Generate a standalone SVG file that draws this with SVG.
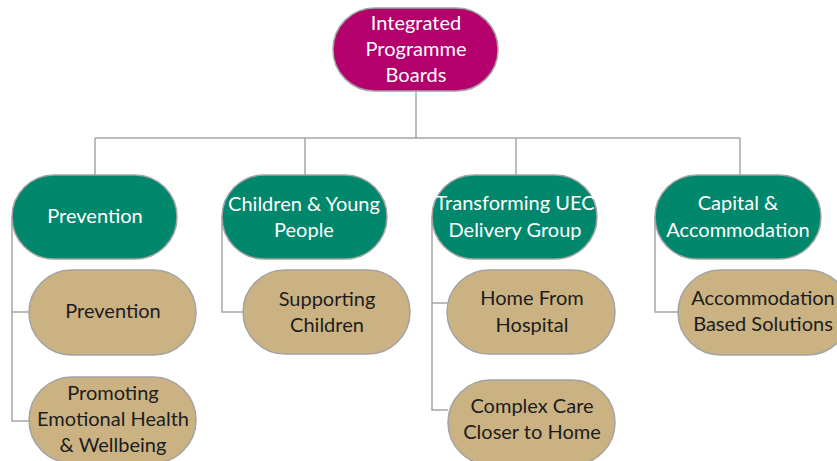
<svg xmlns="http://www.w3.org/2000/svg" width="837" height="461" viewBox="0 0 837 461">
  <style>
    .node { stroke: #a3a3a3; stroke-width: 1.5; }
    .board { fill: #b4006c; }
    .group { fill: #00876c; }
    .stream { fill: #cbb283; }
    .lbl { font-family: Lato, "Liberation Sans", sans-serif; font-size: 20px; text-anchor: middle; }
    .light { fill: #ffffff; }
    .dark { fill: #1c1c1c; }
    .conn { fill: none; stroke: #a6a6a6; stroke-width: 1.5; }
  </style>

  <rect width="837" height="461" fill="#ffffff"/>

  <!-- connectors -->
  <g id="connectors" class="conn">
    <path d="M416 91 V138"/>
    <path d="M95 138 H740"/>
    <path d="M95 138 V175"/>
    <path d="M305 138 V175"/>
    <path d="M516 138 V175"/>
    <path d="M740 138 V175"/>
    <path d="M12 217 V421 H29"/>
    <path d="M12 312 H29"/>
    <path d="M222 217 V312 H243"/>
    <path d="M432 217 V410 H448"/>
    <path d="M432 303 H447"/>
    <path d="M655 217 V312 H678"/>
  </g>

  <!-- top level -->
  <g id="integrated-programme-boards">
    <rect class="node board" x="333" y="8" width="165" height="83" rx="41.5"/>
    <text class="lbl light" x="416" y="30">Integrated</text>
    <text class="lbl light" x="416" y="56">Programme</text>
    <text class="lbl light" x="416" y="82">Boards</text>
  </g>

  <!-- programme groups -->
  <g id="prevention-group">
    <rect class="node group" x="12" y="175" width="165" height="84" rx="42"/>
    <text class="lbl light" x="95" y="223">Prevention</text>
  </g>
  <g id="children-young-people">
    <rect class="node group" x="222" y="175" width="165" height="84" rx="42"/>
    <text class="lbl light" x="304" y="211">Children &amp; Young</text>
    <text class="lbl light" x="304" y="237">People</text>
  </g>
  <g id="transforming-uec">
    <rect class="node group" x="432" y="175" width="165" height="84" rx="42"/>
    <text class="lbl light" x="515" y="210">Transforming UEC</text>
    <text class="lbl light" x="515" y="237">Delivery Group</text>
  </g>
  <g id="capital-accommodation">
    <rect class="node group" x="655" y="175" width="166" height="84" rx="42"/>
    <text class="lbl light" x="738" y="210">Capital &amp;</text>
    <text class="lbl light" x="738" y="237">Accommodation</text>
  </g>

  <!-- workstreams -->
  <g id="prevention">
    <rect class="node stream" x="29" y="270" width="167" height="85" rx="42.5"/>
    <text class="lbl dark" x="113" y="318">Prevention</text>
  </g>
  <g id="promoting-emotional-health">
    <rect class="node stream" x="29" y="377" width="167" height="86" rx="43"/>
    <text class="lbl dark" x="113" y="400">Promoting</text>
    <text class="lbl dark" x="113" y="426">Emotional Health</text>
    <text class="lbl dark" x="113" y="452">&amp; Wellbeing</text>
  </g>
  <g id="supporting-children">
    <rect class="node stream" x="243" y="270" width="167" height="84" rx="42"/>
    <text class="lbl dark" x="327" y="306">Supporting</text>
    <text class="lbl dark" x="327" y="332">Children</text>
  </g>
  <g id="home-from-hospital">
    <rect class="node stream" x="447" y="270" width="168" height="84" rx="42"/>
    <text class="lbl dark" x="532" y="305">Home From</text>
    <text class="lbl dark" x="532" y="332">Hospital</text>
  </g>
  <g id="complex-care">
    <rect class="node stream" x="448" y="380" width="167" height="85" rx="42.5"/>
    <text class="lbl dark" x="532" y="413">Complex Care</text>
    <text class="lbl dark" x="532" y="439">Closer to Home</text>
  </g>
  <g id="accommodation-solutions">
    <rect class="node stream" x="678" y="270" width="172" height="85" rx="42.5"/>
    <text class="lbl dark" x="763" y="305">Accommodation</text>
    <text class="lbl dark" x="763" y="331">Based Solutions</text>
  </g>
</svg>
